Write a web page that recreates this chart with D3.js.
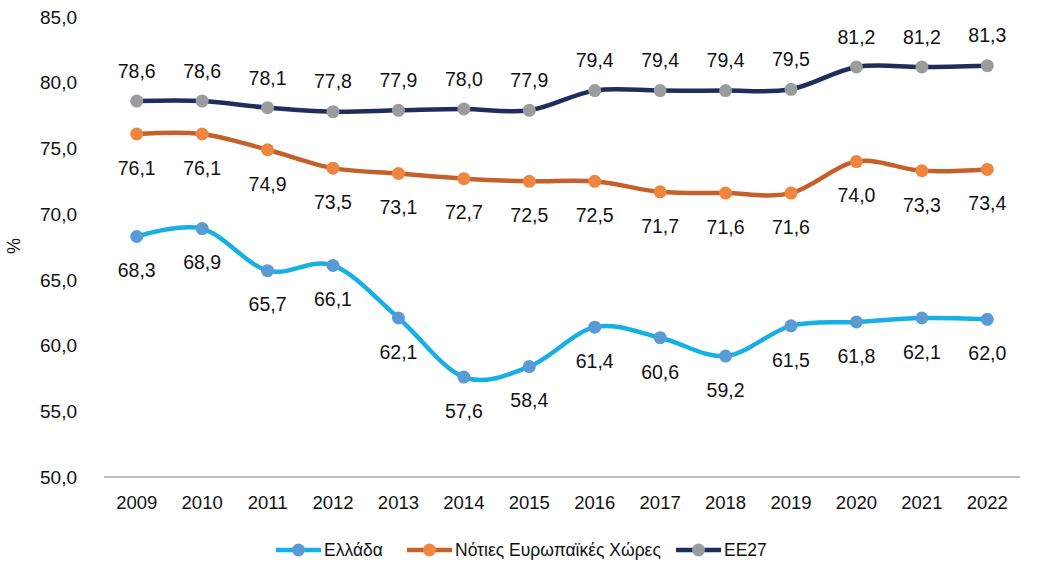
<!DOCTYPE html>
<html>
<head>
<meta charset="utf-8">
<script src="https://cdn.jsdelivr.net/npm/d3@7"></script>
<style>
body { margin: 0; background: #fff; }
text { font-family: "Liberation Sans", Arial, sans-serif; fill: #111; }
</style>
</head>
<body>
<svg width="1045" height="568"></svg>
<script>
var years = ["2009","2010","2011","2012","2013","2014","2015","2016","2017","2018","2019","2020","2021","2022"]
var greece = [68.3,68.9,65.7,66.1,62.1,57.6,58.4,61.4,60.6,59.2,61.5,61.8,62.1,62.0]
var south = [76.1,76.1,74.9,73.5,73.1,72.7,72.5,72.5,71.7,71.6,71.6,74.0,73.3,73.4]
var eu27 = [78.6,78.6,78.1,77.8,77.9,78.0,77.9,79.4,79.4,79.4,79.5,81.2,81.2,81.3]
var yTicks = [50,55,60,65,70,75,80,85]

var series = [
	{ name: "Ελλάδα", values: greece, line: "#17b0e4", dot: "#5b9bd5", dy: 34 },
	{ name: "Νότιες Ευρωπαϊκές Χώρες", values: south, line: "#c4602a", dot: "#ef8640", dy: 34 },
	{ name: "ΕΕ27", values: eu27, line: "#1f2d5c", dot: "#9a9c9d", dy: -30 }
]

var svg = d3.select("svg")
var fmt = function (v) { return d3.format(".1f")(v).replace(".", ",") }

var x = d3.scaleBand().domain(years).range([104, 1020])
var y = d3.scaleLinear().domain([50, 85]).range([477, 17])

// y axis labels
svg.append("g").selectAll("text").data(yTicks).enter().append("text")
	.attr("x", 77).attr("y", function (d) { return y(d) })
	.attr("dy", "0.35em").attr("text-anchor", "end")
	.attr("font-size", 19)
	.text(fmt)

svg.append("text")
	.attr("transform", "translate(20,246) rotate(-90)")
	.attr("text-anchor", "middle").attr("font-size", 18)
	.text("%")

// x axis
svg.append("line")
	.attr("x1", 104).attr("x2", 1020).attr("y1", y(50)).attr("y2", y(50))
	.attr("stroke", "#a6a6a6").attr("stroke-width", 1.5)

svg.append("g").selectAll("text").data(years).enter().append("text")
	.attr("x", function (d) { return x(d) + x.bandwidth() / 2 })
	.attr("y", 503).attr("dy", "0.35em").attr("text-anchor", "middle")
	.attr("font-size", 18.5)
	.text(function (d) { return d })

var line = d3.line()
	.x(function (d, i) { return x(years[i]) + x.bandwidth() / 2 })
	.y(function (d) { return y(d) })
	.curve(d3.curveCatmullRom.alpha(0))

series.forEach(function (s) {
	var g = svg.append("g")
	g.append("path")
		.attr("d", line(s.values))
		.attr("fill", "none").attr("stroke", s.line).attr("stroke-width", 4.5)
		.attr("stroke-linecap", "round")
	g.selectAll("circle").data(s.values).enter().append("circle")
		.attr("cx", function (d, i) { return x(years[i]) + x.bandwidth() / 2 })
		.attr("cy", function (d) { return y(d) })
		.attr("r", 6.5).attr("fill", s.dot)
	g.selectAll("text").data(s.values).enter().append("text")
		.attr("x", function (d, i) { return x(years[i]) + x.bandwidth() / 2 })
		.attr("y", function (d) { return y(d) + s.dy })
		.attr("dy", "0.35em").attr("text-anchor", "middle")
		.attr("font-size", 19.5)
		.text(fmt)
})

// legend
var legendX = [276, 407, 676]
series.forEach(function (s, i) {
	var lg = svg.append("g").attr("transform", "translate(" + legendX[i] + ",550)")
	lg.append("line").attr("x1", 0).attr("x2", 45).attr("y1", 0).attr("y2", 0)
		.attr("stroke", s.line).attr("stroke-width", 4.5)
	lg.append("circle").attr("cx", 22.5).attr("cy", 0).attr("r", 6.5).attr("fill", s.dot)
	lg.append("text").attr("x", 48).attr("y", 0).attr("dy", "0.35em")
		.attr("font-size", 17.5).text(s.name)
})
</script>
</body>
</html>
